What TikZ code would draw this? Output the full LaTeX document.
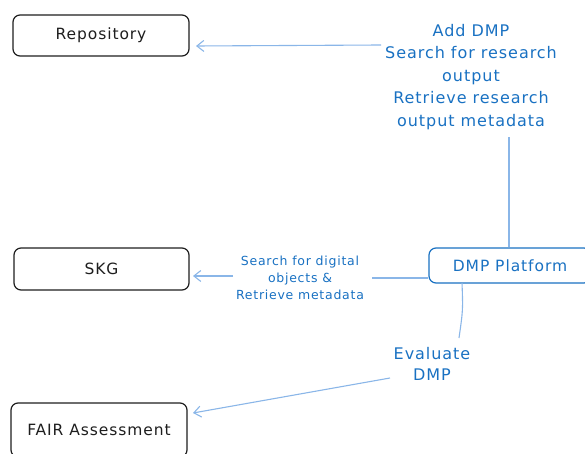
\documentclass[tikz,border=0pt]{standalone}
\usepackage{fontspec}
\setmainfont{DejaVu Sans}[LetterSpace=6]
\usetikzlibrary{arrows.meta}
\definecolor{txtblue}{HTML}{1971C2}
\definecolor{arrblue}{HTML}{8AB6E8}
\definecolor{ink}{HTML}{1E1E1E}
\tikzset{
  box/.style={draw=ink, line width=1.2pt, rounded corners=7pt, fill=white, inner sep=0pt, font=\fontsize{15.5}{18}\selectfont, text=ink},
  bluebox/.style={box, draw=txtblue, text=txtblue},
  lbl/.style={align=center, text=txtblue, inner sep=1pt},
  conn/.style={draw=arrblue, line width=1.1pt},
  arr/.style={conn, -{Straight Barb[length=7pt,width=11pt,line width=1.1pt]}}
}
\begin{document}
\begin{tikzpicture}[x=1pt,y=-1pt]
\useasboundingbox (0,0) rectangle (585,454);
\node[box, minimum width=176pt, minimum height=41pt] (repo) at (101,35.5) {Repository};
\node[box, minimum width=175pt, minimum height=42pt] (skg) at (101.5,269) {SKG};
\node[box, minimum width=176pt, minimum height=54pt] (fair) at (99,430) {FAIR Assessment};
\node[bluebox, minimum width=162pt, minimum height=35pt] (dmp) at (510,265.5) {DMP Platform};

\node[lbl, font=\fontsize{16}{22.5}\selectfont] (l1) at (471,77) {Add DMP\\Search for research\\output\\Retrieve research\\output metadata};
\node[lbl, font=\fontsize{12.5}{17}\selectfont] (l2) at (300,278) {Search for digital\\objects \&\\Retrieve metadata};
\node[lbl, font=\fontsize{16}{21}\selectfont] (l3) at (432,364) {Evaluate\\DMP};

\coordinate (c1a) at (509,137);
\coordinate (c1b) at (381,45);
\coordinate (r1) at (196,46);
\draw[conn] (dmp.north -| c1a) -- (c1a);
\draw[arr] (c1b) -- (r1);

\coordinate (c2a) at (372,278);
\coordinate (c2b) at (233,276);
\coordinate (r2) at (193,276);
\draw[conn] (dmp.west |- c2a) -- (c2a);
\draw[arr] (c2b) -- (r2);

\coordinate (c3s) at (462,283);
\coordinate (c3a) at (459,338);
\coordinate (c3b) at (390,378);
\coordinate (r3) at (193,413);
\draw[conn] (c3s) .. controls (463,310) .. (c3a);
\draw[arr] (c3b) -- (r3);
\end{tikzpicture}
\end{document}
